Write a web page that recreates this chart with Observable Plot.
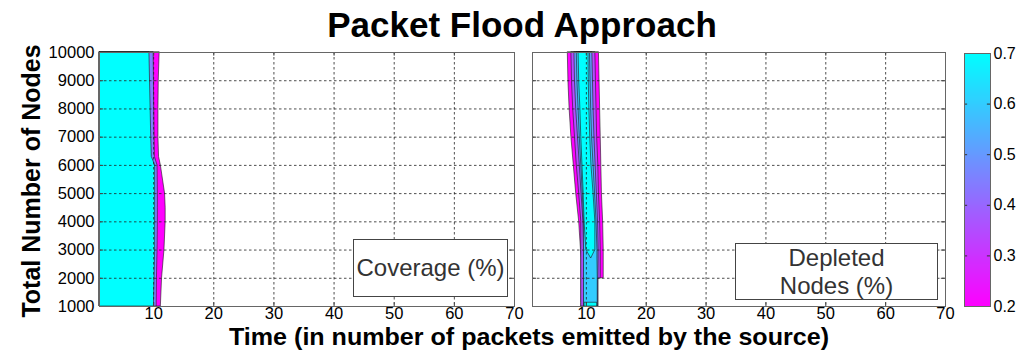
<!DOCTYPE html>
<html>
<head>
<meta charset="utf-8">
<script src="https://cdn.jsdelivr.net/npm/d3@7"></script>
<script src="https://cdn.jsdelivr.net/npm/@observablehq/plot@0.6"></script>
<style>
  body { margin: 0; background: #fff; }
  #chart { position: relative; width: 1019px; height: 350px; overflow: hidden;
           font-family: "Liberation Sans", Arial, sans-serif; }
  #chart > * { position: absolute; }
  .legend-box { box-sizing: border-box; border: 1px solid #444; background: #fff; color: #333;
                font-size: 24px; text-align: center; line-height: 28px; }
</style>
</head>
<body>
<div id="chart"></div>
<script>
// Axis ticks
const timeTicks = [10, 20, 30, 40, 50, 60, 70];
const nodeTicks = [1000, 2000, 3000, 4000, 5000, 6000, 7000, 8000, 9000, 10000];
const colorTicks = [0.2, 0.3, 0.4, 0.5, 0.6, 0.7];

// Coverage (%): for each network size, the time at which each filled level ends
const coverageNodes = [10000, 9000, 8000, 7000, 6300, 6000, 5000, 4500, 4000, 3000, 2000, 1000];
const coverageLevels = [0.2, 0.45, 0.7];
const coverageEnd20 = [11.0, 10.85, 10.8, 10.8, 10.9, 11.2, 11.9, 12.0, 12.0, 11.8, 11.4, 11.2];
const coverageEnd45 = [10.0, 10.05, 10.1, 10.15, 10.2, 10.65, 10.7, 10.7, 10.7, 10.65, 10.55, 10.5];
const coverageEnd70 = [9.3, 9.4, 9.5, 9.6, 9.7, 10.25, 10.25, 10.25, 10.25, 10.25, 10.15, 10.05];

// Depleted Nodes (%): left and right time bounds of each filled level
const depletedNodes = [10000, 9000, 8000, 7000, 6000, 5000, 4000, 3000, 2700, 2000, 1990, 1120, 1000];
const depletedLevels = [0.2, 0.35, 0.5, 0.6, 0.7];
const depletedLeft20  = [6.9, 7.0, 7.2, 7.5, 7.9, 8.3, 8.8, 9.1, 9.15, 9.15, 9.15, 9.15, 9.15];
const depletedRight20 = [12.1, 12.2, 12.3, 12.4, 12.5, 12.6, 12.8, 12.9, 12.9, 12.9, 12.0, 12.0, 12.0];
const depletedLeft35  = [7.5, 7.6, 7.8, 8.1, 8.4, 8.8, 9.15, 9.15, 9.15, 9.15, 9.15, 9.15, 9.15];
const depletedRight35 = [11.5, 11.6, 11.7, 11.8, 12.0, 12.1, 12.3, 12.4, 12.4, 12.4, 12.0, 12.0, 12.0];
const depletedLeft50  = [8.0, 8.1, 8.3, 8.6, 8.9, 9.2, 9.5, 9.6, 9.6, 9.6, 9.6, 9.6, 9.6];
const depletedRight50 = [11.0, 11.1, 11.2, 11.35, 11.55, 11.75, 11.95, 12.05, 12.05, 12.0, 11.9, 11.9, 11.9];
const depletedLeft60  = [8.4, 8.5, 8.7, 8.9, 9.15, 9.4, 9.6, 9.6, 9.6, 9.6, 9.6, 9.6, 9.6];
const depletedRight60 = [10.6, 10.7, 10.8, 10.95, 11.2, 11.45, 11.7, 11.85, 11.85, 11.9, 11.9, 11.9, 11.9];
const depletedLeft70  = [8.7, 8.8, 9.0, 9.15, 9.35, 9.55, 9.7, 10.0, 10.8, null, null, 9.7, 9.7];
const depletedRight70 = [10.35, 10.4, 10.5, 10.65, 10.85, 11.2, 11.5, 11.5, 10.8, null, null, 11.8, 11.8];

// Shared colour scale: magenta (0.2) to cyan (0.7)
const color = {type: "linear", domain: [0.2, 0.7], range: ["#ff00ff", "#00ffff"], interpolate: "rgb"};
const fontStyle = {fontFamily: "Liberation Sans, Arial, sans-serif", fontSize: "16.5px", color: "#000", background: "transparent", overflow: "visible"};

// Build one band table per level: {n, x1, x2}
function bands(nodes, levels, lefts, rights) {
  return levels.map((level, i) => ({
    level,
    rows: nodes.map((n, j) => ({n, x1: lefts[i][j], x2: rights[i][j]}))
  }));
}

const coverageBands = bands(
  coverageNodes, coverageLevels,
  coverageLevels.map(() => coverageNodes.map(() => 1)),
  [coverageEnd20, coverageEnd45, coverageEnd70]
);
const depletedBands = bands(
  depletedNodes, depletedLevels,
  [depletedLeft20, depletedLeft35, depletedLeft50, depletedLeft60, depletedLeft70],
  [depletedRight20, depletedRight35, depletedRight50, depletedRight60, depletedRight70]
);

function panel(bandList, {width, marginLeft, marginRight, showY}) {
  return Plot.plot({
    width, height: 350, marginLeft, marginRight, marginTop: 52, marginBottom: 44,
    style: fontStyle,
    x: {domain: [1, 70], ticks: timeTicks, tickSize: 0, tickPadding: 1, label: null},
    y: {domain: [1000, 10000], ticks: nodeTicks, tickSize: 0, tickPadding: 5, label: null,
        tickFormat: d => String(d), axis: showY ? "left" : null},
    color,
    marks: [
      ...bandList.map(b => Plot.areaX(b.rows, {
        y: "n", x1: "x1", x2: "x2", fill: () => b.level,
        stroke: "#1a1a1a", strokeWidth: 0.6
      })),
      Plot.gridX(timeTicks.slice(0, -1), {stroke: "#222", strokeOpacity: 0.8, strokeDasharray: "2.5,2.5"}),
      Plot.gridY(nodeTicks.slice(1, -1), {stroke: "#222", strokeOpacity: 0.8, strokeDasharray: "2.5,2.5"}),
      Plot.ruleX(timeTicks.slice(0, -1), {y1: 1000, y2: 1130, stroke: "#444"}),
      Plot.ruleX(timeTicks.slice(0, -1), {y1: 9870, y2: 10000, stroke: "#444"}),
      Plot.ruleY(nodeTicks.slice(1, -1), {x1: 1, x2: 1.7, stroke: "#444"}),
      Plot.ruleY(nodeTicks.slice(1, -1), {x1: 69.3, x2: 70, stroke: "#444"}),
      Plot.frame({stroke: "#666"})
    ]
  });
}

const chart = document.getElementById("chart");

const left = panel(coverageBands, {width: 520, marginLeft: 99, marginRight: 6, showY: true});
left.style.left = "0px"; left.style.top = "0px";
chart.appendChild(left);

const right = panel(depletedBands, {width: 434, marginLeft: 11, marginRight: 10, showY: false});
right.style.left = "521px"; right.style.top = "0px";
chart.appendChild(right);

// Colour bar
const bar = Plot.plot({
  width: 56, height: 350, marginLeft: 1, marginRight: 29, marginTop: 53, marginBottom: 44,
  style: {...fontStyle, fontSize: "16px"},
  x: {domain: [0, 1], axis: null},
  y: {domain: [0.2, 0.7], ticks: colorTicks, tickFormat: d3.format(".1f"), axis: "right",
      tickSize: 0, tickPadding: 3, label: null},
  color,
  marks: [
    Plot.raster({x1: 0, x2: 1, y1: 0.2, y2: 0.7, width: 1, height: 250, fill: (x, y) => y}),
    Plot.ruleY(colorTicks.slice(1, -1), {x1: 0, x2: 0.12, stroke: "#333"}),
    Plot.ruleY(colorTicks.slice(1, -1), {x1: 0.88, x2: 1, stroke: "#333"}),
    Plot.frame({stroke: "#666"})
  ]
});
bar.style.left = "963px"; bar.style.top = "0px";
chart.appendChild(bar);

// Legend boxes
const cov = document.createElement("div");
cov.className = "legend-box";
Object.assign(cov.style, {left: "353px", top: "239px", width: "155px", height: "58px", paddingTop: "14px"});
cov.textContent = "Coverage (%)";
chart.appendChild(cov);

const dep = document.createElement("div");
dep.className = "legend-box";
Object.assign(dep.style, {left: "735px", top: "243px", width: "203px", height: "57px", paddingTop: "0px"});
dep.innerHTML = "Depleted<br>Nodes (%)";
chart.appendChild(dep);

// Title and axis labels
const ns = "http://www.w3.org/2000/svg";
const svg = document.createElementNS(ns, "svg");
svg.setAttribute("width", 1019); svg.setAttribute("height", 350);
svg.style.left = "0px"; svg.style.top = "0px"; svg.style.pointerEvents = "none";
svg.style.fontFamily = "Liberation Sans, Arial, sans-serif";
function label(text, x, y, size, rotate, length) {
  const t = document.createElementNS(ns, "text");
  t.setAttribute("text-anchor", "middle");
  t.setAttribute("font-weight", "bold");
  t.setAttribute("font-size", size);
  t.setAttribute("transform", `translate(${x},${y})${rotate ? ` rotate(${rotate})` : ""}`);
  if (length) { t.setAttribute("textLength", length); t.setAttribute("lengthAdjust", "spacingAndGlyphs"); }
  t.textContent = text;
  svg.appendChild(t);
}
label("Packet Flood Approach", 522, 37, 35);
label("Time (in number of packets emitted by the source)", 529, 344.5, 24, 0, 600);
label("Total Number of Nodes", 40, 181, 25, -90);
chart.appendChild(svg);
</script>
</body>
</html>
